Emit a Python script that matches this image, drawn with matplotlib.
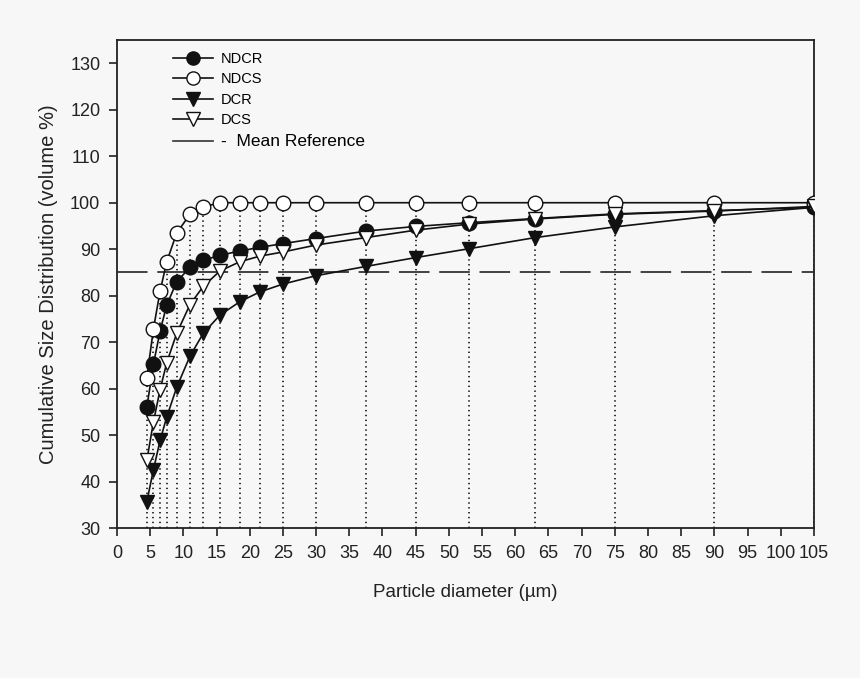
import matplotlib
matplotlib.use("Agg")
import matplotlib.pyplot as plt
from matplotlib.lines import Line2D

plt.rcParams['font.family'] = ['Liberation Sans', 'DejaVu Sans']
plt.rcParams['lines.scale_dashes'] = False

# particle diameter (um)
diam = [4.5, 5.5, 6.5, 7.5, 9, 11, 13, 15.5, 18.5, 21.5, 25, 30, 37.5, 45, 53, 63, 75, 90, 105]

ndcr = [56.0, 65.3, 72.4, 78.0, 83.0, 86.1, 87.6, 88.7, 89.6, 90.4, 91.2, 92.3, 93.9, 94.9, 95.7, 96.6, 97.6, 98.3, 99.0]
ndcs = [62.4, 72.9, 81.0, 87.3, 93.5, 97.5, 99.1, 100.0, 100.0, 100.0, 100.0, 100.0, 100.0, 100.0, 100.0, 100.0, 100.0, 100.0, 100.0]
dcr = [35.7, 42.6, 48.9, 53.9, 60.3, 67.0, 71.9, 75.8, 78.7, 80.8, 82.5, 84.3, 86.3, 88.2, 90.1, 92.5, 94.8, 97.2, 99.0]
dcs = [44.6, 52.9, 59.8, 65.6, 71.9, 78.1, 82.0, 85.3, 87.3, 88.5, 89.4, 90.9, 92.5, 94.1, 95.4, 96.5, 97.5, 98.2, 99.2]
mean_ref = 85

bg = '#f7f7f7'
fig = plt.figure(figsize=(8.6, 6.78), dpi=100, facecolor=bg)
ax = fig.add_axes([0.136, 0.221, 0.8105, 0.72], facecolor=bg)

# dotted drop lines
tops = [max(a, b, c, d) for a, b, c, d in zip(ndcr, ndcs, dcr, dcs)]
ax.vlines(diam, 30, tops, colors='#222222', linestyles=(0, (1, 2.5)), linewidth=1.3, zorder=1)

ax.axhline(mean_ref, color='#333333', linewidth=1.3, dashes=(22, 7), zorder=1)

ms = 10.5
ax.plot(diam, ndcr, '-o', color='#111111', mfc='#111111', mec='#111111', ms=ms, lw=1.2, zorder=3)
ax.plot(diam, ndcs, '-o', color='#111111', mfc='white', mec='#111111', ms=ms, lw=1.2, zorder=3)
ax.plot(diam, dcr, '-v', color='#111111', mfc='#111111', mec='#111111', ms=ms, lw=1.2, zorder=3)
ax.plot(diam, dcs, '-v', color='#111111', mfc='white', mec='#111111', ms=ms, lw=1.2, zorder=3)

ax.set_xlim(0, 105)
ax.set_ylim(30, 135)
ax.set_xticks(range(0, 106, 5))
ax.set_yticks(range(30, 131, 10))
ax.tick_params(direction='out', length=6, width=1.2, labelsize=13, colors='#222222', pad=6)
for s in ax.spines.values():
    s.set_linewidth(1.3)
    s.set_color('#222222')

ax.set_xlabel('Particle diameter (µm)', fontsize=13.5, color='#222222', labelpad=16)
ax.set_ylabel('Cumulative Size Distribution (volume %)', fontsize=14.5, color='#222222', labelpad=9)

handles = [
    Line2D([], [], color='#111111', marker='o', mfc='#111111', ms=9.5, lw=1.2),
    Line2D([], [], color='#111111', marker='o', mfc='white', ms=9.5, lw=1.2),
    Line2D([], [], color='#111111', marker='v', mfc='#111111', ms=9.5, lw=1.2),
    Line2D([], [], color='#111111', marker='v', mfc='white', ms=9.5, lw=1.2),
    Line2D([], [], color='#333333', lw=1.2),
]
labels = ['NDCR', 'NDCS', 'DCR', 'DCS', '-  Mean Reference']
leg = ax.legend(handles, labels, loc='upper left', bbox_to_anchor=(0.063, 1.0),
                frameon=False, fontsize=10.5, handlelength=2.8, labelspacing=0.45,
                handletextpad=0.5, borderpad=0.3)
leg.get_texts()[4].set_fontsize(12.5)

fig.savefig('out.png', dpi=100, facecolor=bg)
